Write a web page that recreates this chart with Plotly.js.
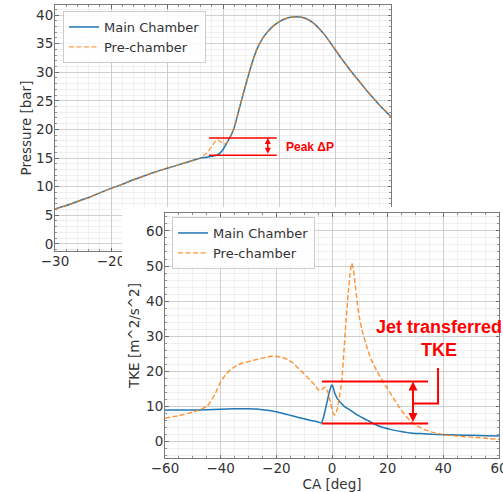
<!DOCTYPE html>
<html>
<head>
<meta charset="utf-8">
<script src="https://cdn.plot.ly/plotly-3.0.1.min.js"></script>
<style>
  html, body { margin: 0; padding: 0; background: #ffffff; }
  #chart { width: 503px; height: 492px; }
</style>
</head>
<body>
<div id="chart"></div>
<script>
// ---- Cylinder pressure vs crank angle ----
const caPressure = [-30,-28,-26,-24,-22,-20,-18,-16,-14,-12,-10,-8,-6,-5,-4,-3,-2,-1.1,-0.5,0,0.5,1,1.5,2,3,4,5,6,7,8,9,10,11,12,13,14,15,16,17,18,19,20,21,22,23,24,25,26,27,28,29,30];
const pressureMain = [6.1,6.7,7.4,8.1,8.9,9.7,10.4,11.2,11.9,12.6,13.2,13.8,14.4,14.7,15.0,15.15,15.3,15.5,15.9,16.5,17.3,18.2,19.1,20.3,24.0,27.6,31.0,33.9,35.8,37.1,38.1,38.8,39.3,39.6,39.7,39.6,39.3,38.7,37.8,36.7,35.4,34.0,32.6,31.3,30.0,28.8,27.6,26.4,25.3,24.2,23.2,22.2];
const pressurePre = [6.1,6.7,7.4,8.1,8.9,9.7,10.4,11.2,11.9,12.6,13.2,13.8,14.4,14.7,15.05,15.8,17.0,18.2,17.9,17.5,17.5,18.2,19.1,20.3,24.0,27.6,31.0,33.9,35.8,37.1,38.1,38.8,39.3,39.6,39.7,39.6,39.3,38.7,37.8,36.7,35.4,34.0,32.6,31.3,30.0,28.8,27.6,26.4,25.3,24.2,23.2,22.2];

// ---- Turbulent kinetic energy vs crank angle ----
const caTkeMain = [-60,-55,-50,-45,-40,-35,-30,-27,-24,-20,-16,-12,-8,-5,-3.8,-3.2,-2.5,-1.8,-1,-0.3,0,0.4,1,2,3,4.5,6.5,9,12.5,15,18,21,24,28,32,36,40,45,50,55,60];
const tkeMain = [9.0,9.0,9.0,9.1,9.2,9.35,9.4,9.3,9.0,8.5,7.7,6.9,6.1,5.6,5.3,6.5,8.8,11.2,14.0,15.8,16.1,15.5,13.8,12.2,11.2,10.0,9.0,7.6,6.2,5.1,4.1,3.5,3.0,2.5,2.3,2.1,2.0,1.9,1.8,1.7,1.6];
const caTkePre = [-60,-55,-50,-46,-45,-44,-42,-40,-38,-36,-34,-32,-30,-28,-26,-24,-22,-20,-18,-16,-14,-12,-10,-8,-6,-5,-4,-3,-2.3,-1.5,-0.5,0.3,1,1.8,2.5,3.5,4.3,5,5.8,6.5,7.1,7.7,8.3,9,9.8,10.7,12.5,14,16,18,20,22,24,26,28,30,32,34,36,38,40,44,48,52,56,60];
const tkePre = [6.7,7.4,8.4,9.6,10.0,11.0,13.6,17.0,19.3,20.8,21.8,22.4,22.8,23.2,23.6,24.0,24.3,24.3,24.0,23.4,22.4,20.8,19.3,17.6,16.0,14.8,14.6,15.3,15.5,14.2,11.0,8.3,7.6,9.0,12.0,17.0,26.0,34.0,42.0,48.0,50.8,49.0,45.0,40.0,35.5,32.0,27.0,23.5,20.3,17.5,15.0,12.5,10.0,7.8,6.0,4.8,3.9,3.2,2.7,2.3,2.0,1.7,1.4,1.2,0.9,0.7];

const seriesNames = ['Main Chamber', 'Pre-chamber'];

// Pressure x-axis: only the first two labels stay readable beside the TKE panel
const pressureTickVals = [-30, -20, -10, 0, 10, 20, 30];
const pressureTickText = ['\u221230', '\u221220', '', '', '', '', ''];

// ---- Callout levels ----
const peakDpLevels = [15.5, 18.5];     // bar, main vs pre-chamber peak
const peakDpSpan = [-2.5, 9.6];        // CA extent of the guide lines
const peakDpArrowCa = 8.0;
const jetTkeLevels = [5.2, 17.1];      // m^2/s^2
const jetTkeSpan = [-3.6, 34.5];
const jetTkeArrowCa = 29.1;
const jetBracket = {ca: 38.1, top: 21.0};

// ---- Styling ----
const blue = '#1f77b4';
const orange = '#ff7f0e';
const red = '#ff0000';
const textColor = '#333333';
const font = 'DejaVu Sans, sans-serif';
const boldFont = 'Liberation Sans, Arial, sans-serif';

function axis(opts) {
  return Object.assign({
    showline: true, mirror: 'ticks', linecolor: '#7a7a7a', linewidth: 1,
    ticks: 'inside', ticklen: 3.5, tickwidth: 0.8, tickcolor: '#555555',
    showgrid: true, gridcolor: '#c4c4c4', gridwidth: 0.8,
    zeroline: false, ticklabelstandoff: -2,
    tickfont: {family: font, size: 13.5, color: textColor},
    fixedrange: true
  }, opts);
}
function minor(dtick) {
  return {dtick: dtick, showgrid: true, gridcolor: '#e6e6e6', gridwidth: 0.6,
          ticks: 'inside', ticklen: 2, tickcolor: '#777777'};
}

const traces = [
  {x: caPressure, y: pressureMain, name: seriesNames[0], type: 'scatter', mode: 'lines',
   line: {color: blue, width: 1.5, shape: 'spline', smoothing: 0.8}, xaxis: 'x', yaxis: 'y', legend: 'legend'},
  {x: caPressure, y: pressurePre, name: seriesNames[1], type: 'scatter', mode: 'lines',
   line: {color: orange, width: 1.4, dash: '5px,2.5px', shape: 'spline', smoothing: 0.8}, opacity: 0.75,
   xaxis: 'x', yaxis: 'y', legend: 'legend'},
  // white panel behind the TKE axes
  {x: [0, 1, 1, 0, 0], y: [0, 0, 1, 1, 0], type: 'scatter', mode: 'lines', fill: 'toself',
   fillcolor: '#ffffff', line: {width: 0, color: '#ffffff'}, hoverinfo: 'skip', showlegend: false,
   xaxis: 'x2', yaxis: 'y2'},
  {x: caTkeMain, y: tkeMain, name: seriesNames[0], type: 'scatter', mode: 'lines',
   line: {color: blue, width: 1.5, shape: 'spline', smoothing: 0.4}, xaxis: 'x3', yaxis: 'y3', legend: 'legend2'},
  {x: caTkePre, y: tkePre, name: seriesNames[1], type: 'scatter', mode: 'lines',
   line: {color: orange, width: 1.4, dash: '5px,2.5px', shape: 'spline', smoothing: 0.4}, opacity: 0.85,
   xaxis: 'x3', yaxis: 'y3', legend: 'legend2'}
];

const W = 503, H = 492;
const px = v => v / W;
const py = v => 1 - v / H;

const shapes = [];
peakDpLevels.forEach(lv => shapes.push({type: 'line', xref: 'x', yref: 'y',
  x0: peakDpSpan[0], x1: peakDpSpan[1], y0: lv, y1: lv, line: {color: red, width: 1.5}}));
jetTkeLevels.forEach(lv => shapes.push({type: 'line', xref: 'x3', yref: 'y3',
  x0: jetTkeSpan[0], x1: jetTkeSpan[1], y0: lv, y1: lv, line: {color: red, width: 2}}));
const jetMid = (jetTkeLevels[0] + jetTkeLevels[1]) / 2 - 0.3;
shapes.push({type: 'path', xref: 'x3', yref: 'y3',
  path: `M${jetTkeArrowCa},${jetMid} L${jetBracket.ca},${jetMid} L${jetBracket.ca},${jetBracket.top}`,
  line: {color: red, width: 2}});

const annotations = [
  {xref: 'x', yref: 'y', axref: 'x', ayref: 'y',
   x: peakDpArrowCa, y: peakDpLevels[1], ax: peakDpArrowCa, ay: peakDpLevels[0],
   text: '', showarrow: true, arrowside: 'end+start', arrowhead: 2, arrowsize: 0.8,
   arrowwidth: 1.5, arrowcolor: red, standoff: 0, startstandoff: 0},
  {xref: 'x', yref: 'y', x: 15.5, y: 16.9, text: '<b>Peak ΔP</b>', showarrow: false,
   font: {family: boldFont, size: 12, color: red}, xanchor: 'center', yanchor: 'middle'},
  {xref: 'x3', yref: 'y3', axref: 'x3', ayref: 'y3',
   x: jetTkeArrowCa, y: jetTkeLevels[1], ax: jetTkeArrowCa, ay: jetTkeLevels[0],
   text: '', showarrow: true, arrowside: 'end+start', arrowhead: 2, arrowsize: 0.9,
   arrowwidth: 2, arrowcolor: red, standoff: 0, startstandoff: 0},
  {xref: 'x3', yref: 'y3', x: 38.5, y: 29.4, text: '<b>Jet transferred<br>TKE</b>', showarrow: false,
   font: {family: boldFont, size: 18, color: red}, xanchor: 'center', yanchor: 'middle', align: 'center'}
];

const legendStyle = {
  bgcolor: 'rgba(255,255,255,0.85)', bordercolor: '#cccccc', borderwidth: 1,
  font: {family: font, size: 13, color: textColor},
  xanchor: 'left', yanchor: 'top', tracegroupgap: 0, itemwidth: 30
};

const layout = {
  width: W, height: H, autosize: false,
  margin: {l: 0, r: 0, t: 0, b: 0, pad: 0},
  paper_bgcolor: '#ffffff', plot_bgcolor: '#ffffff',
  showlegend: true,
  xaxis: axis({domain: [px(55), px(391)], range: [-30, 30], tickmode: 'array',
               tickvals: pressureTickVals, ticktext: pressureTickText,
               anchor: 'y', minor: minor(2)}),
  yaxis: axis({domain: [py(251), py(5)], range: [-1.25, 41.75], dtick: 5, tick0: 0,
               anchor: 'x', minor: minor(1),
               title: {text: 'Pressure [bar]', font: {family: font, size: 13.5, color: textColor}, standoff: 1}}),
  xaxis2: {domain: [px(122), 1], range: [0, 1], visible: false, fixedrange: true, anchor: 'y2'},
  yaxis2: {domain: [0, py(207)], range: [0, 1], visible: false, fixedrange: true, anchor: 'x2'},
  xaxis3: axis({domain: [px(165), px(499)], range: [-60, 60], dtick: 20, tick0: -60,
                anchor: 'y3', minor: minor(5), ticklabeloverflow: 'allow',
                title: {text: 'CA [deg]', font: {family: font, size: 13.5, color: textColor}, standoff: 4}}),
  yaxis3: axis({domain: [py(458), py(213)], range: [-4.65, 65.1], dtick: 10, tick0: 0,
                anchor: 'x3', minor: minor(2),
                title: {text: 'TKE [m^2/s^2]', font: {family: font, size: 13.5, color: textColor}, standoff: 3}}),
  legend: Object.assign({x: px(63), y: py(11)}, legendStyle),
  legend2: Object.assign({x: px(172), y: py(217)}, legendStyle),
  shapes: shapes,
  annotations: annotations
};

Plotly.newPlot('chart', traces, layout, {displayModeBar: false, staticPlot: true});
</script>
</body>
</html>
